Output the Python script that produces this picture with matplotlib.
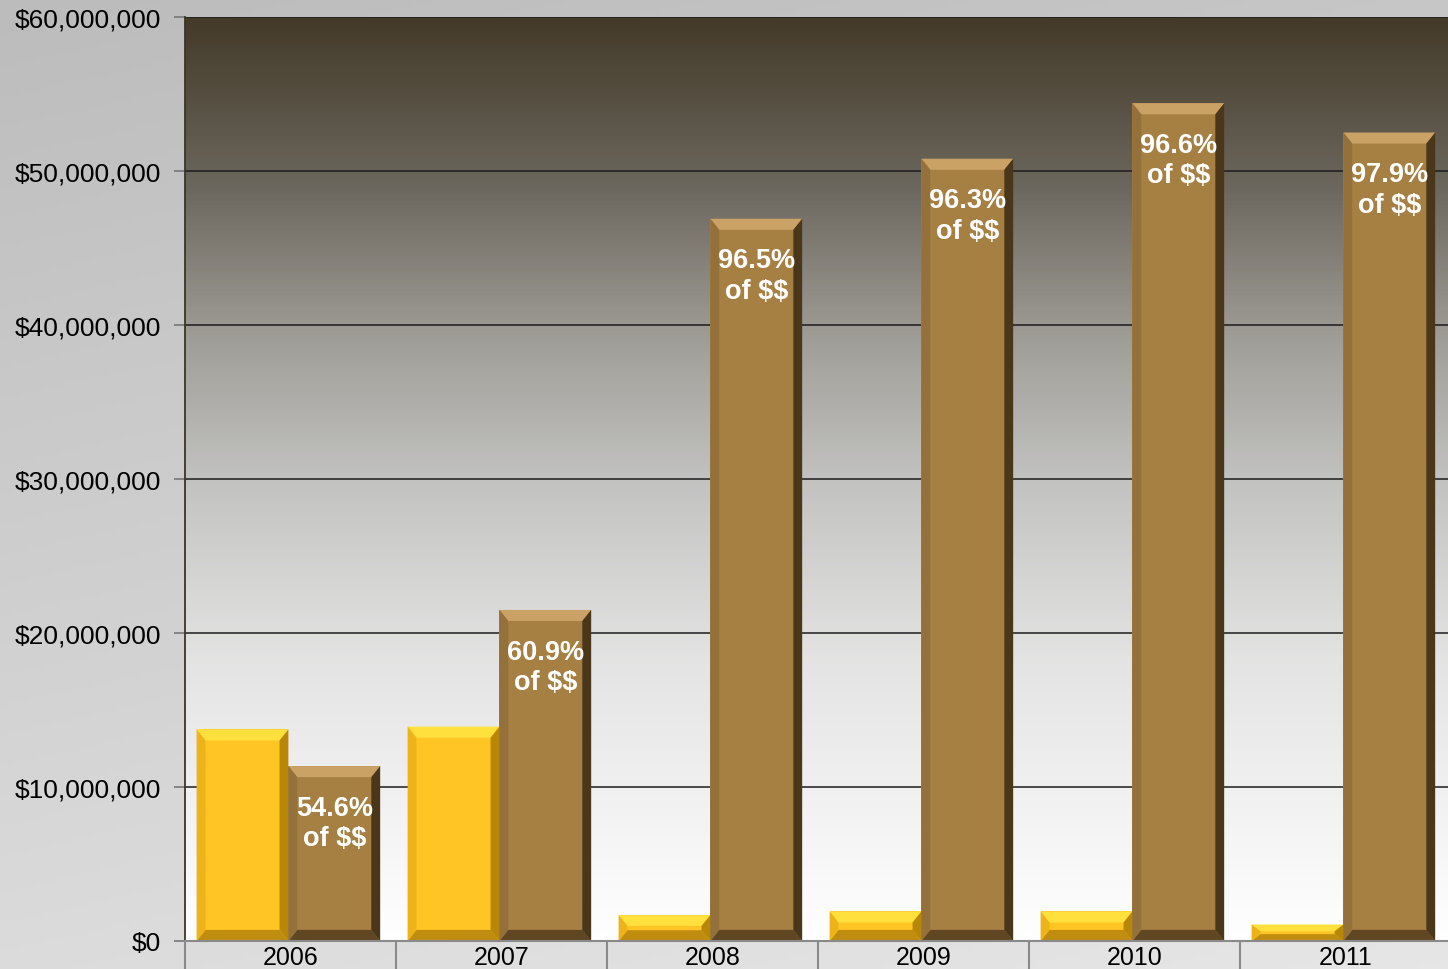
import numpy as np
import matplotlib
matplotlib.use("Agg")
import matplotlib.pyplot as plt
from matplotlib.colors import LinearSegmentedColormap
from matplotlib.patches import Polygon
from matplotlib.ticker import FuncFormatter

plt.rcParams['font.family'] = ['Liberation Sans', 'DejaVu Sans']

# Data
years = ['2006', '2007', '2008', '2009', '2010', '2011']
series_a = [13.74e6, 13.92e6, 1.68e6, 1.92e6, 1.92e6, 1.07e6]
series_b = [11.36e6, 21.5e6, 46.9e6, 50.8e6, 54.4e6, 52.5e6]
shares = ['54.6%', '60.9%', '96.5%', '96.3%', '96.6%', '97.9%']

fig = plt.figure(figsize=(14.48, 9.70), dpi=100)

# Figure background: soft grey gradient
bg = fig.add_axes([0, 0, 1, 1], zorder=-10)
yy, xx = np.mgrid[0:1:200j, 0:1:200j]
bg.imshow(0.75 * yy + 0.25 * xx, cmap=LinearSegmentedColormap.from_list(
    'figbg', ['#bcbcbc', '#e6e6e6']), aspect='auto', extent=[0, 1, 0, 1])
bg.axis('off')

ax = fig.add_axes([185 / 1448, 28 / 970, 1266 / 1448, 924 / 970])
ax.set_facecolor('none')

# Plot area gradient: dark brown at top to white at bottom
plot_cmap = LinearSegmentedColormap.from_list('plotbg', [
    (0.0, '#ffffff'), (0.3, '#e4e4e4'), (0.5, '#c2c2c1'),
    (0.65, '#a09e98'), (0.82, '#6b665d'), (1.0, '#433a28')])
grad = np.linspace(0, 1, 256).reshape(-1, 1)
ax.imshow(grad, cmap=plot_cmap, aspect='auto', origin='lower',
          extent=[0, 1, 0, 1], transform=ax.transAxes, zorder=0)

ax.set_xlim(-0.5, 5.5)
ax.set_ylim(0, 60e6)

x = np.arange(len(years))
width = 0.435
shift = -0.01

styles = {
    'a': dict(face='#ffc525', top='#ffe03c', left='#efb31a',
              right='#b98708', bottom='#c08d10'),
    'b': dict(face='#a67f42', top='#caa266', left='#94703a',
              right='#4a371a', bottom='#5f4723'),
}

bars_a = ax.bar(x + shift - width / 2, series_a, width, color=styles['a']['face'],
                edgecolor='none', zorder=3)
bars_b = ax.bar(x + shift + width / 2, series_b, width, color=styles['b']['face'],
                edgecolor='none', zorder=3)


def bevel(bar, st):
    x0, y0 = bar.get_x(), bar.get_y()
    w, h = bar.get_width(), bar.get_height()
    dx = 0.042
    dy = min(0.72e6, h / 2.4)
    x1, y1 = x0 + w, y0 + h
    faces = [
        ([(x0, y1), (x1, y1), (x1 - dx, y1 - dy), (x0 + dx, y1 - dy)], st['top']),
        ([(x0, y0), (x1, y0), (x1 - dx, y0 + dy), (x0 + dx, y0 + dy)], st['bottom']),
        ([(x0, y0), (x0, y1), (x0 + dx, y1 - dy), (x0 + dx, y0 + dy)], st['left']),
        ([(x1, y0), (x1, y1), (x1 - dx, y1 - dy), (x1 - dx, y0 + dy)], st['right']),
    ]
    for pts, c in faces:
        ax.add_patch(Polygon(pts, closed=True, facecolor=c, edgecolor='none', zorder=4))


for bar in bars_a:
    bevel(bar, styles['a'])
for bar in bars_b:
    bevel(bar, styles['b'])

# Percentage labels inside the brown bars
for bar, s in zip(bars_b, shares):
    ax.annotate(s + '\nof $$', (bar.get_x() + bar.get_width() / 2, bar.get_height()),
                xytext=(0, -41), textcoords='offset points', ha='center', va='center',
                color='white', fontsize=19.5, fontweight='bold', linespacing=1.22,
                zorder=5, parse_math=False)

# Gridlines
ax.set_yticks(np.arange(0, 60e6 + 1, 10e6))
ax.yaxis.set_major_formatter(FuncFormatter(lambda v, p: r'\${:,.0f}'.format(v)))
ax.grid(axis='y', color='#1c1c1c', linewidth=1.1, zorder=1)
for gl in ax.get_ygridlines():
    gl.set_zorder(1)

ax.tick_params(axis='y', length=8, width=1.2, color='#777777', labelsize=19,
               pad=9, labelcolor='black')

# Category separators below the axis, year labels centred
ax.set_xticks(np.arange(-0.5, 6.0, 1.0))
ax.set_xticklabels([])
ax.tick_params(axis='x', which='major', length=30, width=1.5, color='#8a8a8a')
ax.set_xticks(x, minor=True)
ax.set_xticklabels(years, minor=True)
ax.tick_params(axis='x', which='minor', length=0, labelsize=18, pad=3)

for side in ['top', 'right']:
    ax.spines[side].set_visible(False)
ax.spines['left'].set_color('#3a3528')
ax.spines['left'].set_linewidth(1.3)
ax.spines['left'].set_zorder(6)
ax.spines['bottom'].set_color('#8a8a8a')
ax.spines['bottom'].set_linewidth(1.5)
ax.spines['bottom'].set_zorder(6)

fig.savefig('out.png', dpi=100)
